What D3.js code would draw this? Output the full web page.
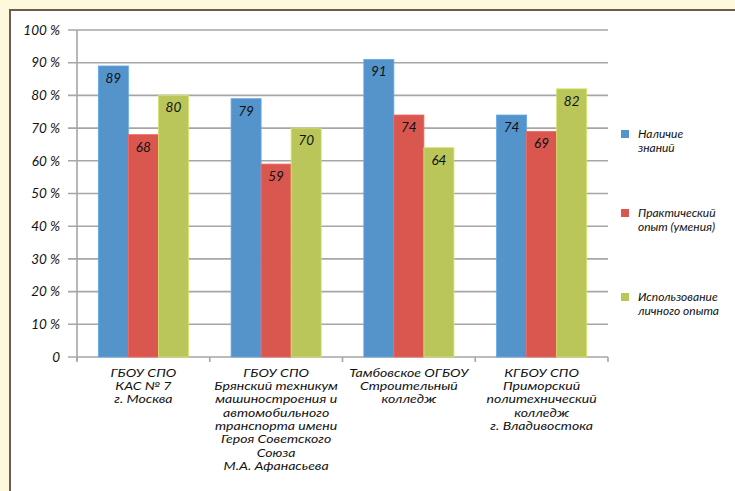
<!DOCTYPE html>
<html><head><meta charset="utf-8">
<script src="https://cdn.jsdelivr.net/npm/d3@7"></script>
<style>
html,body{margin:0;padding:0;background:#fef9dd;}
svg{display:block;}
text{font-family:Lato,"Open Sans","Noto Sans",sans-serif;font-style:italic;fill:#111;}
</style></head>
<body>
<svg id="chart" width="735" height="491"></svg>
<script>
const categories = [
  ["ГБОУ СПО","КАС № 7","г. Москва"],
  ["ГБОУ СПО","Брянский техникум","машиностроения и","автомобильного","транспорта имени","Героя Советского","Союза","М.А. Афанасьева"],
  ["Тамбовское ОГБОУ","Строительный","колледж"],
  ["КГБОУ СПО","Приморский","политехнический","колледж","г. Владивостока"]
];
const seriesNames = [["Наличие","знаний"],["Практический","опыт (умения)"],["Использование","личного опыта"]];
const knowledge = [89, 79, 91, 74];
const practice = [68, 59, 74, 69];
const personal = [80, 70, 64, 82];
const yTicks = [0,10,20,30,40,50,60,70,80,90,100];
const colors = ["#5593cb","#d9574f","#bac55a"];

const series = [knowledge, practice, personal];
const svg = d3.select("#chart");

// frame
svg.append("rect").attr("x",10).attr("y",10).attr("width",740).attr("height",500)
  .attr("fill","#ffffff").attr("stroke","#6e5b4b").attr("stroke-width",2);

const x0 = d3.scaleBand().domain(d3.range(categories.length)).range([77,608]).paddingInner(0).paddingOuter(0);
const x1 = d3.scaleBand().domain(d3.range(series.length)).range([0, x0.bandwidth()]).paddingOuter(0.71).paddingInner(0);
const y = d3.scaleLinear().domain([0,100]).range([357,30]);

// gridlines
svg.append("g").selectAll("line").data(yTicks).join("line")
  .attr("x1",68).attr("x2",608).attr("y1",d=>y(d)).attr("y2",d=>y(d))
  .attr("stroke","#a6a6a6").attr("stroke-width",1.6);

// y axis line
svg.append("line").attr("x1",77).attr("x2",77).attr("y1",y(100)).attr("y2",y(0)+4)
  .attr("stroke","#a6a6a6").attr("stroke-width",1.6);

// y labels
svg.append("g").selectAll("text").data(yTicks).join("text")
  .attr("x",60).attr("y",d=>y(d)).attr("dy","0.35em").attr("text-anchor","end")
  .attr("font-size",13.5).text(d=>d===0?"0":d+" %");

// category ticks
svg.append("g").selectAll("line").data(d3.range(categories.length+1)).join("line")
  .attr("x1",i=>77+i*x0.bandwidth()).attr("x2",i=>77+i*x0.bandwidth())
  .attr("y1",y(0)).attr("y2",y(0)+5).attr("stroke","#a6a6a6").attr("stroke-width",1.6);

// bars
const groups = svg.append("g").selectAll("g").data(categories).join("g")
  .attr("transform",(d,i)=>`translate(${x0(i)},0)`);
groups.each(function(_,ci){
  const g = d3.select(this);
  series.forEach((s,si)=>{
    const v = s[ci];
    g.append("rect").attr("x",x1(si)).attr("width",x1.bandwidth())
      .attr("y",y(v)).attr("height",y(0)-y(v)).attr("fill",colors[si])
      .attr("stroke",d3.color(colors[si]).brighter(0.4)).attr("stroke-width",0.8);
    g.append("text").attr("x",x1(si)+x1.bandwidth()/2).attr("y",y(v)+17)
      .attr("text-anchor","middle").attr("font-size",13.5).text(v);
  });
});

// category labels (one text per line, widened to match the reference face)
const catG = svg.append("g").selectAll("g").data(categories).join("g")
  .attr("transform",(d,i)=>`translate(${x0(i)+x0.bandwidth()/2},376.5) scale(1.27,1)`);
catG.selectAll("text").data(d=>d).join("text")
  .attr("text-anchor","middle").attr("font-size",11.1)
  .attr("x",0).attr("y",(d,i)=>i*13.4).text(d=>d);

// legend
const legY = [134, 213, 297];
const leg = svg.append("g").selectAll("g").data(seriesNames).join("g")
  .attr("transform",(d,i)=>`translate(621,${legY[i]})`);
leg.append("rect").attr("x",0).attr("y",-4).attr("width",8).attr("height",8)
  .attr("fill",(d,i)=>colors[i]);
leg.selectAll("text").data(d=>d).join("text").attr("font-size",12)
  .attr("x",17).attr("y",(d,i)=>4+i*14).text(d=>d);
</script>
</body></html>
